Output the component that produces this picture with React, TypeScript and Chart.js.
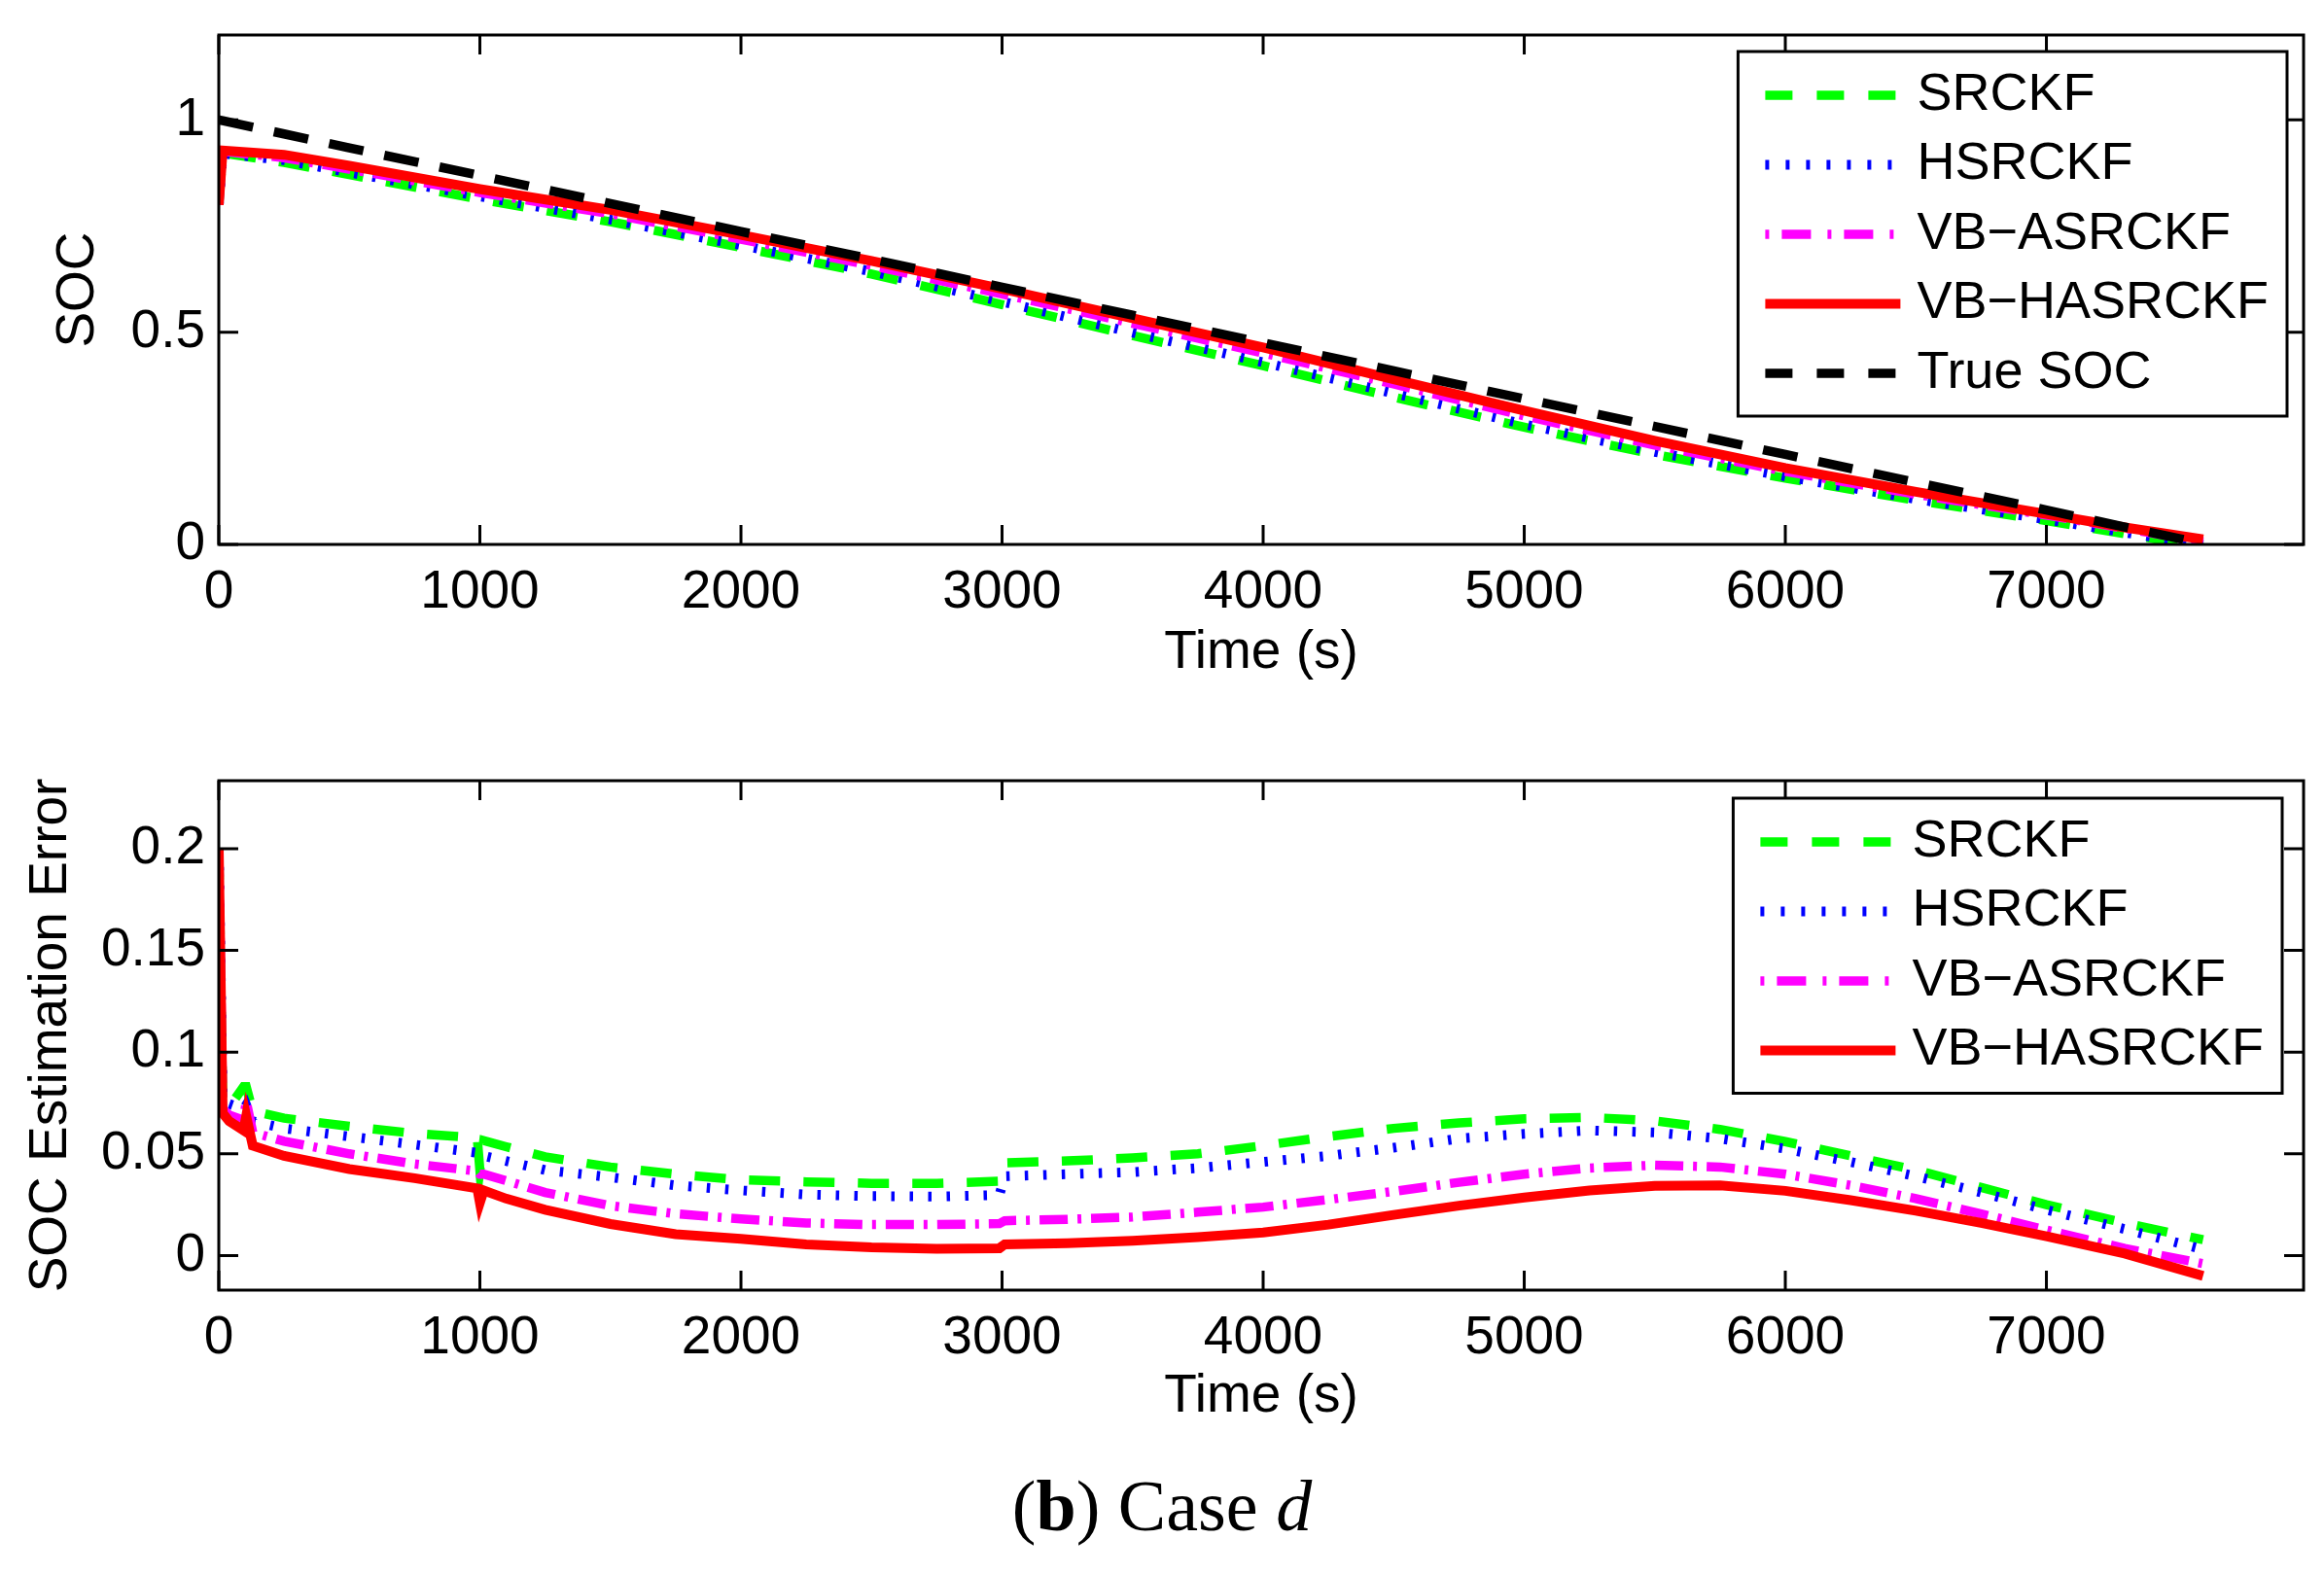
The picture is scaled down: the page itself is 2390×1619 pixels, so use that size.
import { useEffect, useRef } from "react"
import { Chart, registerables } from "chart.js"

Chart.register(...registerables)

// ---- data ----
const LABELS = ["SRCKF", "HSRCKF", "VB\u2212ASRCKF", "VB\u2212HASRCKF", "True SOC"]

const SOC_TIME = [0, 15, 250, 500, 1000, 1500, 2000, 2500, 3000, 3500, 4000, 4500, 5000, 5500, 6000, 6500, 7000, 7300, 7600]
const SOC_SRCKF = [0.8, 0.922, 0.9, 0.871, 0.813, 0.76, 0.7, 0.637, 0.565, 0.492, 0.421, 0.347, 0.276, 0.212, 0.156, 0.104, 0.056, 0.025, -0.006]
const SOC_HSRCKF = [0.8, 0.921, 0.905, 0.876, 0.82, 0.765, 0.705, 0.643, 0.572, 0.499, 0.429, 0.356, 0.283, 0.218, 0.16, 0.107, 0.059, 0.028, -0.001]
const SOC_VBASRCKF = [0.8, 0.926, 0.911, 0.884, 0.829, 0.779, 0.719, 0.657, 0.59, 0.521, 0.451, 0.378, 0.303, 0.234, 0.172, 0.118, 0.069, 0.038, 0.006]
const SOC_VBHASRCKF = [0.8, 0.928, 0.918, 0.892, 0.837, 0.788, 0.729, 0.668, 0.602, 0.533, 0.464, 0.389, 0.315, 0.244, 0.18, 0.124, 0.072, 0.04, 0.012]
const SOC_TRUE = [1.0, 0.998, 0.967, 0.934, 0.869, 0.803, 0.737, 0.672, 0.606, 0.54, 0.475, 0.409, 0.343, 0.278, 0.212, 0.146, 0.081, 0.041, 0.002]

const ERR_TIME = [0, 15, 40, 95, 105, 130, 250, 500, 750, 990, 1000, 1015, 1100, 1250, 1500, 1750, 2000, 2250, 2500, 2750, 2990, 3010, 3250, 3500, 3750, 4000, 4250, 4500, 4750, 5000, 5250, 5500, 5750, 6000, 6250, 6500, 6750, 7000, 7300, 7600]
const ERR_SRCKF = [0.2, 0.076, 0.073, 0.083, 0.083, 0.071, 0.0675, 0.0635, 0.06, 0.0578, 0.042, 0.0565, 0.0535, 0.0485, 0.0435, 0.04, 0.0372, 0.0362, 0.0355, 0.0355, 0.0365, 0.0455, 0.0465, 0.048, 0.05, 0.054, 0.0585, 0.0625, 0.0652, 0.0672, 0.0679, 0.0662, 0.062, 0.056, 0.049, 0.042, 0.0335, 0.025, 0.016, 0.0078]
const ERR_HSRCKF = [0.2, 0.077, 0.0745, 0.072, 0.074, 0.066, 0.0625, 0.0585, 0.0545, 0.0505, 0.0485, 0.049, 0.0465, 0.042, 0.0385, 0.0345, 0.032, 0.03, 0.0292, 0.029, 0.0298, 0.039, 0.04, 0.041, 0.043, 0.046, 0.049, 0.053, 0.0575, 0.0598, 0.0615, 0.0605, 0.0575, 0.0525, 0.046, 0.039, 0.031, 0.0225, 0.013, 0.003]
const ERR_VBASRCKF = [0.2, 0.072, 0.069, 0.0665, 0.076, 0.0605, 0.0562, 0.05, 0.045, 0.0415, 0.04, 0.04, 0.0368, 0.031, 0.0245, 0.0205, 0.018, 0.016, 0.0152, 0.0152, 0.0157, 0.0171, 0.0178, 0.0189, 0.0213, 0.0238, 0.0275, 0.0315, 0.036, 0.04, 0.043, 0.0444, 0.0435, 0.04, 0.0345, 0.028, 0.0205, 0.0125, 0.0035, -0.004]
const ERR_VBHASRCKF = [0.2, 0.07, 0.066, 0.0615, 0.0685, 0.054, 0.049, 0.0425, 0.038, 0.033, 0.026, 0.032, 0.028, 0.0225, 0.0155, 0.0105, 0.0082, 0.0055, 0.004, 0.0033, 0.0036, 0.0055, 0.006, 0.0072, 0.009, 0.0113, 0.0152, 0.02, 0.0245, 0.0285, 0.032, 0.0343, 0.0345, 0.0318, 0.0272, 0.022, 0.016, 0.0095, 0.001, -0.01]

const X_TICKS = [0, 1000, 2000, 3000, 4000, 5000, 6000, 7000]
const SOC_TICKS = [0, 0.5, 1]
const ERR_TICKS = [0, 0.05, 0.1, 0.15, 0.2]

// ---- styles ----
const SANS = '"Liberation Sans", Arial, Helvetica, sans-serif'
const STYLES = [
  { color: "#00ff00", dash: [32, 24], legendDash: [28, 25], width: 9.5 },
  { color: "#0000ff", dash: [3.5, 15.5], legendDash: [4, 17], width: 10 },
  { color: "#ff00ff", dash: [29, 10, 4, 10], legendDash: [4, 13, 30, 17], width: 9.5 },
  { color: "#ff0000", dash: [], legendDash: [], width: 10 },
  { color: "#000000", dash: [36, 22], legendDash: [28, 25], width: 9.5 },
]

const axesFrame = {
  id: "axesFrame",
  afterDatasetsDraw(chart: any) {
    const { ctx, chartArea: a, scales } = chart
    ctx.save()
    ctx.setLineDash([])
    ctx.strokeStyle = "#000"
    ctx.lineWidth = 3
    ctx.beginPath()
    for (const t of scales.x.ticks) {
      const px = scales.x.getPixelForValue(t.value)
      ctx.moveTo(px, a.bottom)
      ctx.lineTo(px, a.bottom - 20)
      ctx.moveTo(px, a.top)
      ctx.lineTo(px, a.top + 20)
    }
    for (const t of scales.y.ticks) {
      const py = scales.y.getPixelForValue(t.value)
      ctx.moveTo(a.left, py)
      ctx.lineTo(a.left + 20, py)
      ctx.moveTo(a.right, py)
      ctx.lineTo(a.right - 20, py)
    }
    ctx.stroke()
    ctx.strokeRect(a.left, a.top, a.right - a.left, a.bottom - a.top)
    ctx.restore()
  },
}

const boxLegend = {
  id: "boxLegend",
  afterDraw(chart: any, _args: any, opts: any) {
    const { ctx, chartArea } = chart
    const sets = chart.data.datasets
    ctx.save()
    ctx.font = `54px ${SANS}`
    const textW = Math.max(...sets.map((d: any) => ctx.measureText(d.label).width))
    const w = 184 + textW + 19
    const h = 89 + (sets.length - 1) * 71.5
    const left = chartArea.right - opts.right - w
    const top = chartArea.top + opts.top
    ctx.setLineDash([])
    ctx.fillStyle = "#fff"
    ctx.fillRect(left, top, w, h)
    ctx.strokeStyle = "#000"
    ctx.lineWidth = 3
    ctx.strokeRect(left, top, w, h)
    sets.forEach((d: any, i: number) => {
      const y = top + 45 + i * 71.5
      ctx.beginPath()
      ctx.setLineDash(d.legendDash)
      ctx.lineCap = "butt"
      ctx.lineWidth = d.borderWidth
      ctx.strokeStyle = d.borderColor
      ctx.moveTo(left + 28, y)
      ctx.lineTo(left + 167, y)
      ctx.stroke()
      ctx.setLineDash([])
      ctx.fillStyle = "#000"
      ctx.textAlign = "left"
      ctx.textBaseline = "middle"
      ctx.fillText(d.label, left + 184, y)
    })
    ctx.restore()
  },
}

function makeDatasets(time: number[], series: number[][]) {
  return series.map((vals, i) => ({
    label: LABELS[i],
    data: vals.map((v, k) => ({ x: time[k], y: v })),
    borderColor: STYLES[i].color,
    borderWidth: STYLES[i].width,
    borderDash: STYLES[i].dash,
    legendDash: STYLES[i].legendDash,
    borderCapStyle: "butt",
    pointRadius: 0,
    tension: 0,
    fill: false,
    clip: 0,
    order: series.length - i,
  }))
}

function makeOptions(cfg: any) {
  const font = { family: SANS, size: 55 }
  return {
    responsive: true,
    maintainAspectRatio: false,
    animation: false,
    events: [],
    layout: { padding: { top: cfg.padTop, right: 21, left: 0, bottom: 0 } },
    plugins: {
      legend: { display: false },
      tooltip: { enabled: false },
      boxLegend: cfg.legend,
    },
    scales: {
      x: {
        type: "linear",
        min: 0,
        max: 7985,
        afterBuildTicks: (s: any) => {
          s.ticks = X_TICKS.map((v) => ({ value: v }))
        },
        afterFit: (s: any) => {
          s.height = cfg.xHeight
          s.paddingLeft = 0
          s.paddingRight = 0
        },
        grid: { display: false, drawTicks: false },
        border: { display: false },
        ticks: { padding: 17, font, color: "#000", autoSkip: false, maxRotation: 0, callback: (v: any) => String(v) },
        title: { display: true, text: "Time (s)", font, color: "#000", padding: { top: 0, bottom: cfg.xTitlePad } },
      },
      y: {
        type: "linear",
        min: cfg.yMin,
        max: cfg.yMax,
        afterBuildTicks: (s: any) => {
          s.ticks = cfg.yTicks.map((v: number) => ({ value: v }))
        },
        afterFit: (s: any) => {
          s.width = 225
          s.paddingTop = 0
          s.paddingBottom = 0
        },
        grid: { display: false, drawTicks: false },
        border: { display: false },
        ticks: { padding: 14, font, color: "#000", autoSkip: false, callback: (v: any) => String(v) },
        title: { display: true, text: cfg.yTitle, font, color: "#000", padding: { top: cfg.yTitlePad, bottom: 0 } },
      },
    },
  }
}

export default function App() {
  const socRef = useRef<HTMLCanvasElement>(null)
  const errRef = useRef<HTMLCanvasElement>(null)

  useEffect(() => {
    document.body.style.margin = "0"
    if (!socRef.current || !errRef.current) return

    const socChart = new Chart(socRef.current, {
      type: "line",
      data: {
        datasets: makeDatasets(SOC_TIME, [SOC_SRCKF, SOC_HSRCKF, SOC_VBASRCKF, SOC_VBHASRCKF, SOC_TRUE]),
      },
      options: makeOptions({
        padTop: 36,
        xHeight: 160,
        xTitlePad: 15,
        yMin: 0,
        yMax: 1.2,
        yTicks: SOC_TICKS,
        yTitle: "SOC",
        yTitlePad: 48,
        legend: { right: 17, top: 17 },
      }),
      plugins: [axesFrame, boxLegend],
    } as any)

    const errChart = new Chart(errRef.current, {
      type: "line",
      data: {
        datasets: makeDatasets(ERR_TIME, [ERR_SRCKF, ERR_HSRCKF, ERR_VBASRCKF, ERR_VBHASRCKF]),
      },
      options: makeOptions({
        padTop: 63,
        xHeight: 153,
        xTitlePad: 10,
        yMin: -0.017,
        yMax: 0.2334,
        yTicks: ERR_TICKS,
        yTitle: "SOC Estimation Error",
        yTitlePad: 20,
        legend: { right: 22, top: 18 },
      }),
      plugins: [axesFrame, boxLegend],
    } as any)

    return () => {
      socChart.destroy()
      errChart.destroy()
    }
  }, [])

  return (
    <div style={{ position: "relative", width: 2390, height: 1619, background: "#fff", overflow: "hidden" }}>
      <div style={{ position: "absolute", left: 0, top: 0, width: 2390, height: 720 }}>
        <canvas ref={socRef} />
      </div>
      <div style={{ position: "absolute", left: 0, top: 740, width: 2390, height: 740 }}>
        <canvas ref={errRef} />
      </div>
      <div
        style={{
          position: "absolute",
          left: 0,
          top: 1512,
          width: 2390,
          textAlign: "center",
          fontFamily: '"Liberation Serif", "Times New Roman", serif',
          fontSize: 74,
          lineHeight: "74px",
          color: "#000",
        }}
      >
        (<b>b</b>) Case <i>d</i>
      </div>
    </div>
  )
}
